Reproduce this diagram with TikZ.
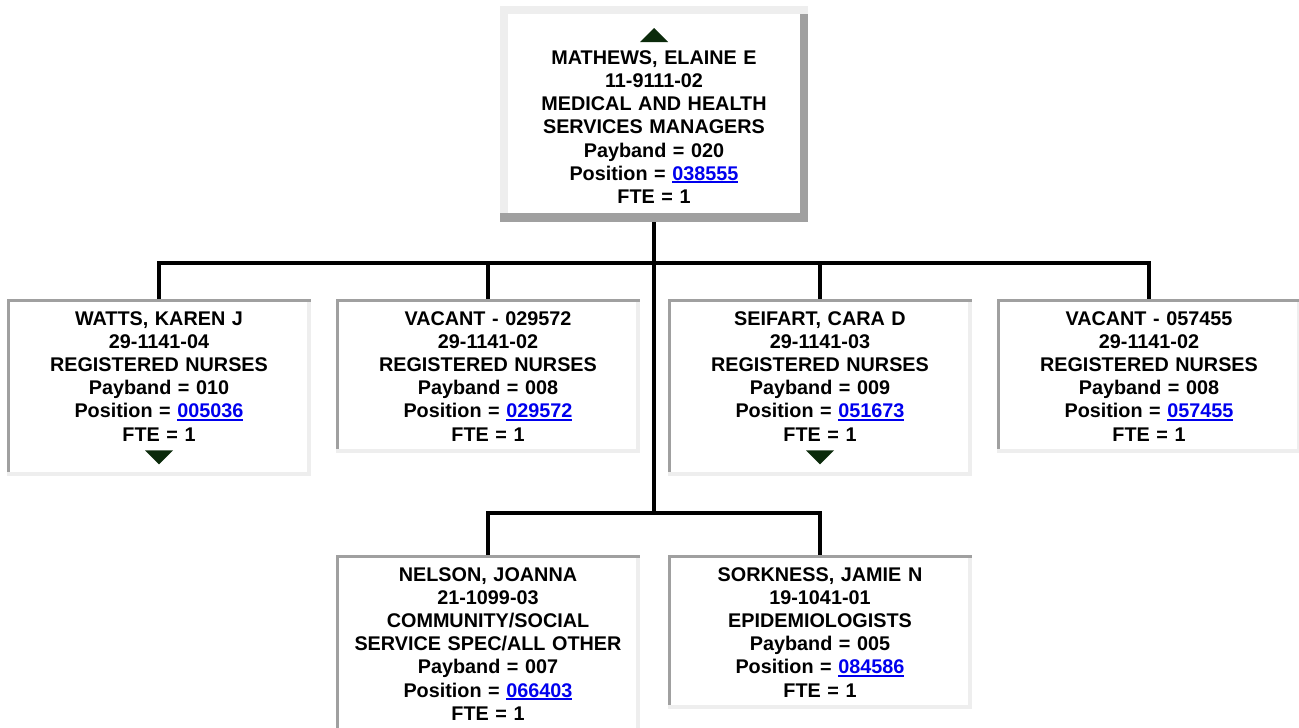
\documentclass[tikz,border=0pt]{standalone}
\usepackage{fontspec}
\setmainfont{Liberation Sans}
\usetikzlibrary{calc}
\definecolor{OrgRimDark}{HTML}{A0A0A0}
\definecolor{OrgRimLight}{HTML}{EEEEEE}
\definecolor{OrgCaret}{HTML}{0B2A0B}
\definecolor{OrgLink}{HTML}{0000EE}
\newcommand{\poslink}[1]{{\color{OrgLink}\setbox0\hbox{#1}\rlap{\rule[-3pt]{\wd0}{1.8pt}}\box0}}

\begin{document}
\begin{tikzpicture}[
  x=1pt, y=-1pt,
  every node/.style={font=\fontsize{19.8}{23.2}\selectfont\bfseries},
  card/.style={fill=white, align=center, text width=280pt, inner xsep=12pt, inner ysep=12pt, anchor=north},
  link/.style={line width=4pt, line join=miter, color=black},
  caret/.style={fill=OrgCaret}
]
\useasboundingbox (0,0) rectangle (1299,728);

% manager
\node[card, inner xsep=14pt, inner ysep=18.8pt] (mathews) at (654,6) {\rule{0pt}{16pt}\\MATHEWS, ELAINE E\\11-9111-02\\MEDICAL AND HEALTH\\SERVICES MANAGERS\\Payband = 020\\Position = \poslink{038555}\\FTE = 1};
\fill[OrgRimDark] ($(mathews.north east)+(-8,8)$) rectangle (mathews.south east);
\fill[OrgRimDark] (mathews.south west) rectangle ($(mathews.south east)+(0,-9)$);
\fill[OrgRimLight] (mathews.north west) rectangle ($(mathews.north east)+(0,8)$);
\fill[OrgRimLight] (mathews.north west) rectangle ($(mathews.south west)+(8,-9)$);
\fill[caret] ($(mathews.north)+(-14,36)$) -- ++(28,0) -- ++(-14,-14) -- cycle;

% direct reports
\node[card] (watts) at (159,299) {WATTS, KAREN J\\29-1141-04\\REGISTERED NURSES\\Payband = 010\\Position = \poslink{005036}\\FTE = 1\\\mbox{}};
\node[card] (vacantone) at (488,299) {VACANT - 029572\\29-1141-02\\REGISTERED NURSES\\Payband = 008\\Position = \poslink{029572}\\FTE = 1};
\node[card] (seifart) at (820,299) {SEIFART, CARA D\\29-1141-03\\REGISTERED NURSES\\Payband = 009\\Position = \poslink{051673}\\FTE = 1\\\mbox{}};
\node[card] (vacanttwo) at (1149,299) {VACANT - 057455\\29-1141-02\\REGISTERED NURSES\\Payband = 008\\Position = \poslink{057455}\\FTE = 1};
\node[card] (nelson) at (488,555) {NELSON, JOANNA\\21-1099-03\\COMMUNITY/SOCIAL\\SERVICE SPEC/ALL OTHER\\Payband = 007\\Position = \poslink{066403}\\FTE = 1};
\node[card] (sorkness) at (820,555) {SORKNESS, JAMIE N\\19-1041-01\\EPIDEMIOLOGISTS\\Payband = 005\\Position = \poslink{084586}\\FTE = 1};

\foreach \n in {watts,vacantone,seifart,vacanttwo,nelson,sorkness}{
  \fill[OrgRimDark] (\n.north west) rectangle ($(\n.north east)+(0,3)$);
  \fill[OrgRimDark] (\n.north west) rectangle ($(\n.south west)+(3,-4)$);
  \fill[OrgRimLight] ($(\n.north east)+(-4,3)$) rectangle (\n.south east);
  \fill[OrgRimLight] (\n.south west) rectangle ($(\n.south east)+(0,-4)$);
}
\fill[caret] ($(watts.south)+(-14,-26)$) -- ++(28,0) -- ++(-14,14) -- cycle;
\fill[caret] ($(seifart.south)+(-14,-26)$) -- ++(28,0) -- ++(-14,14) -- cycle;

% connectors
\coordinate (bus) at (654,263);
\coordinate (lowbus) at (654,513);
\draw[link] (mathews.south) -- (lowbus);
\draw[link] (watts.north) -- (watts.north |- bus) -- (vacanttwo.north |- bus) -- (vacanttwo.north);
\draw[link] (vacantone.north |- bus) -- (vacantone.north);
\draw[link] (seifart.north |- bus) -- (seifart.north);
\draw[link] (nelson.north) -- (nelson.north |- lowbus) -- (sorkness.north |- lowbus) -- (sorkness.north);
\end{tikzpicture}
\end{document}
